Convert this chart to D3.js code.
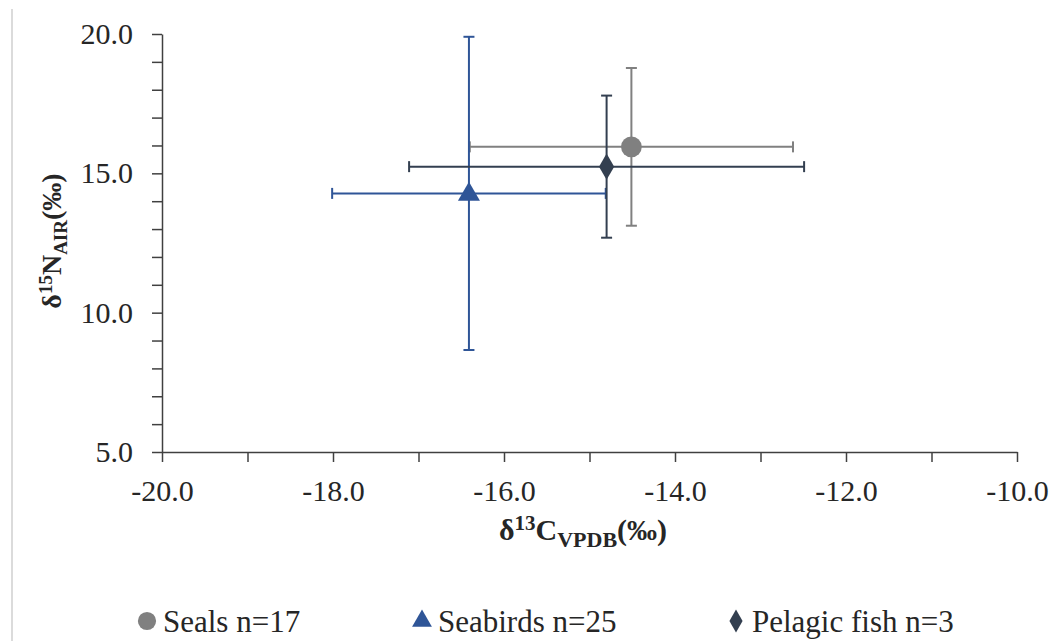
<!DOCTYPE html>
<html>
<head>
<meta charset="utf-8">
<script src="https://cdn.jsdelivr.net/npm/d3@7"></script>
<style>
  html, body { margin: 0; padding: 0; background: #ffffff; }
  svg { display: block; }
  text { font-family: "Liberation Serif", "Times New Roman", serif; }
</style>
</head>
<body>
<svg id="chart" width="1057" height="641"></svg>
<script>
// ---- Data ----
const seriesNames = ["Seals n=17", "Seabirds n=25", "Pelagic fish n=3"];
const carbonMean = [-14.51, -16.41, -14.80];
const carbonSD = [1.89, 1.60, 2.31];
const nitrogenMean = [15.95, 14.28, 15.24];
const nitrogenSD = [2.83, 5.62, 2.55];
const seriesColors = ["#808080", "#2F5597", "#333F50"];
const seriesShapes = ["circle", "triangle", "diamond"];

const xMajorTicks = [-20, -18, -16, -14, -12, -10];
const xAllTicks = d3.range(-20, -9.5, 1);
const yMajorTicks = [5, 10, 15, 20];
const yAllTicks = d3.range(5, 20.5, 1);

// ---- Layout ----
const svg = d3.select("#chart");
const plot = { left: 162, right: 1017, top: 34, bottom: 452 };
const serif = "Liberation Serif, Times New Roman, serif";

const x = d3.scaleLinear().domain([-20, -10]).range([plot.left, plot.right]);
const y = d3.scaleLinear().domain([5, 20]).range([plot.bottom, plot.top]);

// left border line of the cropped frame
svg.append("line")
  .attr("x1", 12).attr("x2", 12).attr("y1", 9).attr("y2", 641)
  .attr("stroke", "#cfcfcf").attr("stroke-width", 1.5);

const axisColor = "#404040";
const textColor = "#262626";

// y axis
const yAxis = d3.axisLeft(y)
  .tickValues(yAllTicks)
  .tickSize(10)
  .tickSizeOuter(0)
  .tickPadding(19)
  .tickFormat(d => yMajorTicks.includes(d) ? d3.format(".1f")(d) : "");
const gy = svg.append("g").attr("transform", `translate(${plot.left},0)`).call(yAxis);

// x axis
const xAxis = d3.axisBottom(x)
  .tickValues(xAllTicks)
  .tickSize(10)
  .tickSizeOuter(0)
  .tickPadding(18)
  .tickFormat(d => xMajorTicks.includes(d) ? d3.format(".1f")(d).replace("\u2212", "-") : "");
const gx = svg.append("g").attr("transform", `translate(0,${plot.bottom})`).call(xAxis);

[gx, gy].forEach(g => {
  g.attr("font-family", serif).attr("font-size", 30);
  g.select(".domain").attr("stroke", axisColor).attr("stroke-width", 1.5);
  g.selectAll(".tick line").attr("stroke", axisColor).attr("stroke-width", 1.5);
  g.selectAll(".tick text")
    .attr("fill", textColor)
    .style("font-size", "30px");
});

// axis titles
const xt = svg.append("text")
  .attr("x", 583).attr("y", 540)
  .attr("text-anchor", "middle")
  .attr("fill", textColor)
  .style("font-size", "30px").style("font-weight", "bold");
xt.append("tspan").text("δ");
xt.append("tspan").attr("dy", -10).style("font-size", "21px").text("13");
xt.append("tspan").attr("dy", 10).text("C");
xt.append("tspan").attr("dy", 7).style("font-size", "22px").text("VPDB");
xt.append("tspan").attr("dy", -7).text("(‰)");

const yt = svg.append("text")
  .attr("transform", "translate(61,241) rotate(-90)")
  .attr("text-anchor", "middle")
  .attr("fill", textColor)
  .style("font-size", "28px").style("font-weight", "bold");
yt.append("tspan").text("δ");
yt.append("tspan").attr("dy", -9).style("font-size", "19px").text("15");
yt.append("tspan").attr("dy", 9).text("N");
yt.append("tspan").attr("dy", 6).style("font-size", "19px").text("AIR");
yt.append("tspan").attr("dy", -6).text("(‰)");

// ---- Data rows ----
const rows = seriesNames.map((name, i) => ({
  name, cx: carbonMean[i], csd: carbonSD[i], ny: nitrogenMean[i], nsd: nitrogenSD[i],
  color: seriesColors[i], shape: seriesShapes[i]
}));

const symbolFor = s => s === "circle" ? d3.symbolCircle : s === "triangle" ? d3.symbolTriangle : d3.symbolDiamond;
const symbolSize = s => s === "circle" ? 340 : s === "triangle" ? 210 : 200;

const cap = 5.5;
const eb = svg.append("g");
rows.forEach(r => {
  const g = eb.append("g").attr("stroke", r.color).attr("stroke-width", 2).attr("fill", "none");
  const x0 = x(r.cx - r.csd), x1 = x(r.cx + r.csd), yc = y(r.ny);
  const y0 = y(r.ny + r.nsd), y1 = y(r.ny - r.nsd), xc = x(r.cx);
  g.append("line").attr("x1", x0).attr("x2", x1).attr("y1", yc).attr("y2", yc);
  g.append("line").attr("x1", x0).attr("x2", x0).attr("y1", yc - cap).attr("y2", yc + cap);
  g.append("line").attr("x1", x1).attr("x2", x1).attr("y1", yc - cap).attr("y2", yc + cap);
  g.append("line").attr("x1", xc).attr("x2", xc).attr("y1", y0).attr("y2", y1);
  g.append("line").attr("x1", xc - cap).attr("x2", xc + cap).attr("y1", y0).attr("y2", y0);
  g.append("line").attr("x1", xc - cap).attr("x2", xc + cap).attr("y1", y1).attr("y2", y1);
});

svg.append("g").selectAll("path").data(rows).join("path")
  .attr("transform", d => `translate(${x(d.cx)},${y(d.ny) + (d.shape === "triangle" ? 1 : 0)})`)
  .attr("d", d => d3.symbol().type(symbolFor(d.shape)).size(symbolSize(d.shape))())
  .attr("fill", d => d.color);

// ---- Legend ----
const legendX = [147, 422, 736];
const legendY = 621;
const lg = svg.append("g").selectAll("g").data(rows).join("g")
  .attr("transform", (d, i) => `translate(${legendX[i]},${legendY})`);
lg.append("path")
  .attr("d", d => d3.symbol().type(symbolFor(d.shape)).size(d.shape === "circle" ? 260 : d.shape === "triangle" ? 170 : 150)())
  .attr("fill", d => d.color);
lg.append("text")
  .attr("x", 16).attr("y", 11)
  .attr("fill", textColor)
  .style("font-size", "31px")
  .text(d => d.name);
</script>
</body>
</html>
